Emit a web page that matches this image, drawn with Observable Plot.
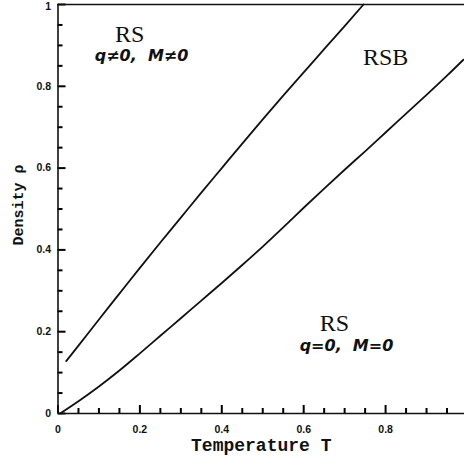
<!DOCTYPE html>
<html>
<head>
<meta charset="utf-8">
<script src="https://cdn.jsdelivr.net/npm/d3@7"></script>
<script src="https://cdn.jsdelivr.net/npm/@observablehq/plot@0.6"></script>
<style>
  html, body { margin: 0; padding: 0; background: #fff; }
  svg { display: block; }
</style>
</head>
<body>
<div id="chart"></div>
<script>
// Upper boundary (RS q≠0 / RSB)
const upperT   = [0.02, 0.05, 0.10, 0.15, 0.20, 0.25, 0.30, 0.35, 0.40, 0.45, 0.50, 0.55, 0.60, 0.65, 0.70, 0.746];
const upperRho = [0.128, 0.166, 0.230, 0.293, 0.356, 0.418, 0.479, 0.540, 0.600, 0.660, 0.719, 0.777, 0.834, 0.891, 0.947, 1.0];
// Lower boundary (RSB / RS q=0), read up to the right edge of the picture
const lowerT   = [0.005, 0.05, 0.10, 0.15, 0.20, 0.25, 0.30, 0.35, 0.40, 0.45, 0.50, 0.55, 0.60, 0.65, 0.70, 0.75, 0.80, 0.85, 0.90, 0.95, 0.99];
const lowerRho = [0.0, 0.030, 0.066, 0.105, 0.147, 0.190, 0.233, 0.276, 0.319, 0.363, 0.408, 0.455, 0.503, 0.550, 0.596, 0.641, 0.687, 0.733, 0.779, 0.826, 0.865];

const xMajorTicks = [0, 0.2, 0.4, 0.6, 0.8];
const xMinorTicks = [0.05, 0.1, 0.15, 0.25, 0.3, 0.35, 0.45, 0.5, 0.55, 0.65, 0.7, 0.75, 0.85, 0.9, 0.95];
const yMajorTicks = [0, 0.2, 0.4, 0.6, 0.8, 1];
const yMinorTicks = [0.05, 0.1, 0.15, 0.25, 0.3, 0.35, 0.45, 0.5, 0.55, 0.65, 0.7, 0.75, 0.85, 0.9, 0.95];

const regionLabels = ["RS", "RSB", "RS"];
const regionT      = [0.175, 0.80, 0.675];
const regionRho    = [0.926, 0.871, 0.2195];
const subLabels    = ["q\u22600,  M\u22600", "q=0,  M=0"];
const subT         = [0.204, 0.7045];
const subRho       = [0.8756, 0.1659];

const upper = upperT.map((t, i) => ({T: t, rho: upperRho[i]}));
const lower = lowerT.map((t, i) => ({T: t, rho: lowerRho[i]}));
const regions = regionLabels.map((s, i) => ({s, T: regionT[i], rho: regionRho[i]}));
const subs = subLabels.map((s, i) => ({s, T: subT[i], rho: subRho[i]}));

const W = 464, H = 458, ML = 57.5, MR = 0, MT = 4, MB = 45;
const xMax = 0.9927;
const ink = "#111";
const fmt = d => d === 0 ? "0" : d === 1 ? "1" : d3.format(".1f")(d);

const chart = Plot.plot({
  width: W,
  height: H,
  marginLeft: ML,
  marginRight: MR,
  marginTop: MT,
  marginBottom: MB,
  x: {domain: [0, xMax]},
  y: {domain: [0, 1]},
  marks: [
    Plot.axisX({ticks: xMajorTicks, tickSize: 0, tickPadding: 12, label: null, tickFormat: fmt, fill: ink,
      fontFamily: "Liberation Sans", fontWeight: "bold", fontSize: 10.5}),
    Plot.axisY({ticks: yMajorTicks.filter(d => d < 1), tickSize: 0, tickPadding: 7, label: null, tickFormat: fmt, fill: ink,
      fontFamily: "Liberation Sans", fontWeight: "bold", fontSize: 10.5}),
    Plot.axisY({ticks: [1], tickSize: 0, tickPadding: 7, dy: 2, label: null, tickFormat: fmt, fill: ink,
      fontFamily: "Liberation Sans", fontWeight: "bold", fontSize: 10.5}),
    // inward ticks
    Plot.axisX({ticks: xMajorTicks, tickSize: -8, text: null, label: null, stroke: "black", strokeWidth: 2}),
    Plot.axisX({ticks: xMinorTicks, tickSize: -5, text: null, label: null, stroke: "black", strokeWidth: 2}),
    Plot.axisY({ticks: yMajorTicks, tickSize: -8, text: null, label: null, stroke: "black", strokeWidth: 2}),
    Plot.axisY({ticks: yMinorTicks, tickSize: -5, text: null, label: null, stroke: "black", strokeWidth: 2}),
    Plot.ruleX([0], {stroke: ink, strokeWidth: 1.6}),
    Plot.ruleY([0], {stroke: ink, strokeWidth: 1.6}),
    Plot.ruleY([1], {stroke: ink, strokeWidth: 1.6}),
    Plot.line(upper, {x: "T", y: "rho", stroke: ink, strokeWidth: 1.8, curve: "monotone-x"}),
    Plot.line(lower, {x: "T", y: "rho", stroke: ink, strokeWidth: 1.8, curve: "monotone-x"}),
    Plot.text(regions, {x: "T", y: "rho", text: "s", fill: ink, fontSize: 24,
      fontFamily: "Liberation Serif", textAnchor: "middle", lineAnchor: "middle"}),
    Plot.text(subs, {x: "T", y: "rho", text: "s", fill: ink, fontSize: 16,
      fontFamily: "DejaVu Sans", fontWeight: "bold", fontStyle: "oblique", textAnchor: "middle", lineAnchor: "middle"}),
    Plot.text(["Temperature T"], {frameAnchor: "bottom", dy: 32, text: d => d, fill: ink,
      fontSize: 18, fontFamily: "Liberation Mono", fontWeight: "bold", lineAnchor: "middle"}),
    Plot.text(["Density \u03c1"], {frameAnchor: "left", dx: -40, dy: -4, rotate: -90, text: d => d, fill: ink,
      textAnchor: "middle", fontSize: 15, fontFamily: "Liberation Mono", fontWeight: "bold", lineAnchor: "middle"})
  ]
});
document.getElementById("chart").appendChild(chart);
</script>
</body>
</html>
